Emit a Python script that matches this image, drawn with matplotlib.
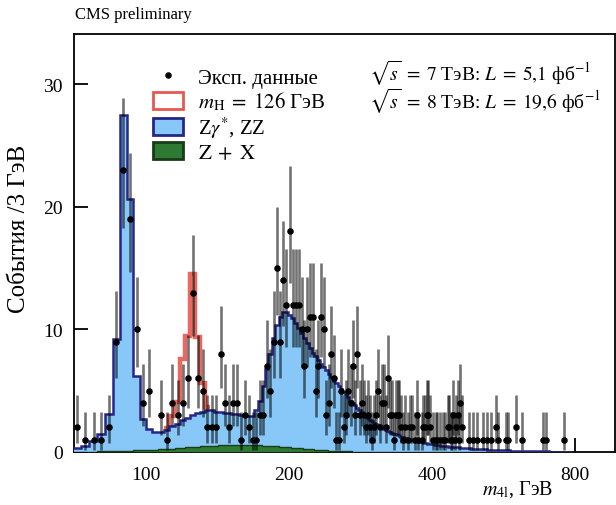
import numpy as np
import matplotlib
matplotlib.use("Agg")
import matplotlib.pyplot as plt
from matplotlib.patches import Patch
from matplotlib.lines import Line2D
from matplotlib.ticker import NullLocator, FixedLocator, FixedFormatter

plt.rcParams['font.family'] = ['Liberation Serif', 'DejaVu Serif']
plt.rcParams['mathtext.fontset'] = 'stix'

# 3 GeV bins starting at 70 GeV
bin_start = 70
bin_width = 3

# stacked background top (ZZ + Z+X), one value per bin, rows of 30 GeV
bkg_total = [
    0.3, 0.5, 0.9, 1.5, 3.1, 9.2, 27.5, 20.6, 6.2, 2.7,            # 70
    1.9, 1.6, 1.6, 1.8, 2.1, 2.3, 2.6, 2.8, 3.0, 3.2,              # 100
    3.3, 3.4, 3.4, 3.3, 3.3, 3.2, 3.2, 3.1, 3.1, 3.0,              # 130
    2.9, 2.9, 2.9, 3.4, 4.2, 5.4, 6.8, 8.0, 9.3, 10.4,             # 160
    11.0, 11.4, 11.4, 11.2, 10.9, 10.5, 10.1, 9.7, 9.3, 8.9,       # 190
    8.5, 8.1, 7.8, 7.5, 7.2, 6.9, 6.7, 6.4, 6.1, 5.8,              # 220
    5.6, 5.4, 5.1, 4.9, 4.7, 4.5, 4.2, 4.0, 3.8, 3.6,              # 250
    3.4, 3.3, 3.1, 2.95, 2.8, 2.65, 2.5, 2.4, 2.3, 2.2,            # 280
    2.1, 2.0, 1.9, 1.82, 1.74, 1.66, 1.58, 1.5, 1.43, 1.36,        # 310
    1.30, 1.25, 1.20, 1.15, 1.10, 1.06, 1.02, 0.98, 0.94, 0.90,    # 340
    0.87, 0.84, 0.81, 0.78, 0.75, 0.72, 0.70, 0.68, 0.66, 0.64,    # 370
    0.62, 0.60, 0.58, 0.56, 0.54, 0.52, 0.50, 0.49, 0.48, 0.46,    # 400
    0.45, 0.44, 0.43, 0.42, 0.41, 0.40, 0.39, 0.38, 0.37, 0.36,    # 430
    0.35, 0.34, 0.33, 0.32, 0.31, 0.30, 0.30, 0.29, 0.28, 0.27,    # 460
    0.27, 0.26, 0.25, 0.25, 0.24, 0.23, 0.23, 0.22, 0.22, 0.21,    # 490
    0.21, 0.20, 0.20, 0.19, 0.19, 0.18, 0.18, 0.17, 0.17, 0.17,    # 520
    0.16, 0.16, 0.15, 0.15, 0.15, 0.14, 0.14, 0.14, 0.13, 0.13,    # 550
    0.13, 0.12, 0.12, 0.12, 0.11, 0.11, 0.11, 0.11, 0.10, 0.10,    # 580
    0.10, 0.10, 0.09, 0.09, 0.09, 0.09, 0.08, 0.08, 0.08, 0.08,    # 610
    0.08, 0.07, 0.07, 0.07, 0.07, 0.07, 0.07, 0.06, 0.06, 0.06,    # 640
    0.06, 0.06, 0.06, 0.06, 0.05, 0.05, 0.05, 0.05, 0.05, 0.05,    # 670
    0.05, 0.05, 0.04, 0.04, 0.04, 0.04, 0.04, 0.04, 0.04, 0.04,    # 700
    0.04, 0.04, 0.04, 0.03, 0.03, 0.03, 0.03, 0.03, 0.03, 0.03,    # 730
    0.03, 0.03, 0.03, 0.03, 0.03, 0.03, 0.02, 0.02, 0.02, 0.02,    # 760
]

# Z+X reducible background (green), zero above 310 GeV
bkg_zx = [
    0.02, 0.03, 0.04, 0.05, 0.06, 0.08, 0.09, 0.11, 0.13, 0.15,    # 70
    0.17, 0.20, 0.22, 0.25, 0.28, 0.31, 0.34, 0.37, 0.40, 0.43,    # 100
    0.46, 0.49, 0.51, 0.53, 0.55, 0.57, 0.58, 0.59, 0.60, 0.60,    # 130
    0.60, 0.59, 0.58, 0.57, 0.55, 0.53, 0.51, 0.49, 0.47, 0.45,    # 160
    0.43, 0.41, 0.39, 0.37, 0.35, 0.33, 0.31, 0.29, 0.27, 0.25,    # 190
    0.23, 0.21, 0.19, 0.17, 0.16, 0.14, 0.13, 0.12, 0.11, 0.10,    # 220
    0.09, 0.08, 0.07, 0.06, 0.06, 0.05, 0.05, 0.04, 0.04, 0.03,    # 250
    0.03, 0.03, 0.02, 0.02, 0.02, 0.02, 0.01, 0.01, 0.01, 0.01,    # 280
]

# Higgs signal m_H = 126 GeV, stacked on top of the background
higgs_lo = [109, 112, 115, 118, 121, 124, 127, 130, 133]
higgs_sig = [0.15, 0.8, 1.8, 5.0, 6.7, 11.5, 6.2, 2.3, 0.3]

# observed events (non-empty bins only), bin lower edge in GeV
data_lo = [70, 73, 76, 79, 82, 85, 88, 91, 94, 97,
           100, 106, 109, 112, 115, 118, 121, 124, 127, 130,
           133, 136, 139, 142, 145, 148, 151, 154, 157, 160,
           163, 166, 169, 172, 175, 178, 181, 184, 187, 190,
           193, 196, 199, 202, 205, 208, 211, 214, 217, 220,
           223, 226, 229, 232, 235, 238, 241, 244, 247, 250,
           253, 256, 259, 262, 265, 268, 271, 274, 277, 280,
           283, 286, 289, 292, 295, 298, 301, 304, 307, 310,
           313, 316, 319, 322, 325, 328, 331, 334, 337, 340,
           343, 346, 349, 355, 358, 361, 367, 370, 373, 379,
           382, 385, 388, 391, 394, 400, 406, 409, 415, 421,
           424, 430, 433, 436, 439, 442, 445, 448, 451, 454,
           457, 460, 478, 487, 496, 511, 520, 532, 544, 550,
           571, 577, 598, 616, 685, 694, 757]
data_n = [2, 1, 1, 1, 2, 9, 23, 19, 10, 4,
          5, 3, 1, 4, 3, 4, 6, 13, 6, 5,
          2, 2, 2, 8, 4, 2, 4, 4, 1, 3,
          2, 1, 1, 3, 3, 7, 5, 9, 15, 9,
          14, 12, 18, 12, 12, 12, 10, 7, 10, 11,
          11, 5, 7, 11, 10, 3, 4, 8, 6, 1,
          1, 5, 2, 3, 5, 4, 7, 3, 8, 3,
          4, 3, 2, 3, 2, 1, 2, 3, 5, 2,
          4, 4, 2, 6, 3, 3, 1, 3, 3, 3,
          2, 1, 2, 1, 2, 2, 1, 3, 1, 1,
          2, 2, 3, 3, 2, 1, 1, 1, 1, 1,
          1, 2, 2, 1, 1, 3, 1, 2, 3, 1,
          4, 2, 1, 1, 1, 1, 1, 1, 2, 1,
          1, 1, 2, 1, 1, 1, 1]

xticks = [100, 200, 400, 800]
yticks = [0, 10, 20, 30]

col_zz = '#88c8f8'
col_zz_edge = '#26268a'
col_zx = '#2f7a33'
col_zx_edge = '#183c18'
col_h = '#e8574f'
col_err = (0.0, 0.0, 0.0, 0.55)


def chi2_wh(k, z):
    """Wilson-Hilferty approximation of the chi2 quantile"""
    a = 2.0 / (9.0 * k)
    return k * (1.0 - a + z * np.sqrt(a)) ** 3


def garwood(n):
    lo = np.where(n > 0, 0.5 * chi2_wh(np.maximum(2 * n, 1), -1.0), 0.0)
    hi = 0.5 * chi2_wh(2 * n + 2, 1.0)
    return lo, hi


bkg_total = np.array(bkg_total)
nbins = len(bkg_total)
edges = bin_start + bin_width * np.arange(nbins + 1)

zx = np.zeros(nbins)
zx[:len(bkg_zx)] = bkg_zx

h_idx = (np.array(higgs_lo) - bin_start) // bin_width
h_top = bkg_total[h_idx] + np.array(higgs_sig)
h_edges = edges[h_idx[0]:h_idx[-1] + 2]

d_n = np.array(data_n, dtype=float)
d_x = np.array(data_lo) + bin_width / 2
d_lo, d_hi = garwood(d_n)

fig = plt.figure(figsize=(6.16, 5.06), dpi=100)
ax = fig.add_axes([74 / 616, 53 / 506, 541 / 616, 418 / 506])

# signal outline
ax.stairs(h_top, h_edges, baseline=None, color=col_h, lw=3.2, alpha=0.9, zorder=2)
# ZZ (stack top) and Z+X
ax.stairs(bkg_total, edges, fill=True, color=col_zz, zorder=3)
ax.stairs(bkg_total, edges, baseline=None, color=col_zz_edge, lw=1.8, zorder=4)
ax.stairs(zx, edges, fill=True, color=col_zx, zorder=5)
ax.stairs(zx, edges, baseline=None, color=col_zx_edge, lw=1.0, zorder=5)

# data
ax.vlines(d_x, d_lo, d_hi, color=col_err, lw=1.9, zorder=6)
ax.plot(d_x, d_n, 'o', color='k', ms=3.7, zorder=7)

ax.set_xscale('log')
ax.set_xlim(70.5, 971)
ax.set_ylim(0, 34.1)
ax.xaxis.set_major_locator(FixedLocator(xticks))
ax.xaxis.set_major_formatter(FixedFormatter([str(t) for t in xticks]))
ax.xaxis.set_minor_locator(NullLocator())
ax.set_yticks(yticks)
ax.tick_params(direction='in', length=10, width=1.3, labelsize=14, top=False, right=False)
ax.tick_params(axis='x', pad=10)
ax.tick_params(axis='y', pad=8)
for s in ax.spines.values():
    s.set_linewidth(1.3)

ax.set_xlabel(r'$m_{4\mathrm{l}}$, ГэВ', fontsize=14.5)
ax.xaxis.set_label_coords(0.82, -0.062)
ax.set_ylabel('События /3 ГэВ', fontsize=18)
ax.yaxis.set_label_coords(-0.082, 0.535)

fig.text(75 / 616, 1 - 15 / 506, 'CMS preliminary', fontsize=12, va='center', ha='left')

ax.text(0.545, 0.907, r'$\sqrt{s}\;=\;7$ ТэВ: $L\;=\;5{,}1$ фб$^{-1}$',
        transform=ax.transAxes, fontsize=14, va='center')
ax.text(0.545, 0.842, r'$\sqrt{s}\;=\;8$ ТэВ: $L\;=\;19{,}6$ фб$^{-1}$',
        transform=ax.transAxes, fontsize=14, va='center')

handles = [
    Line2D([], [], marker='o', color='k', ls='none', ms=3.7),
    Patch(facecolor='white', edgecolor=col_h, lw=2),
    Patch(facecolor=col_zz, edgecolor=col_zz_edge, lw=2),
    Patch(facecolor=col_zx, edgecolor=col_zx_edge, lw=2),
]
labels = ['Эксп. данные', r'$m_{\mathrm{H}}\;=\;126$ ГэВ', r'Z$\gamma^{*}$, ZZ', r'$\mathrm{Z}\;+\;\mathrm{X}$']
ax.legend(handles, labels, loc='upper left', bbox_to_anchor=(0.13, 0.94), frameon=False,
          fontsize=15, handlelength=1.45, handleheight=0.85, labelspacing=0.1,
          handletextpad=0.75, borderaxespad=0)

fig.savefig('out.png', dpi=100)
